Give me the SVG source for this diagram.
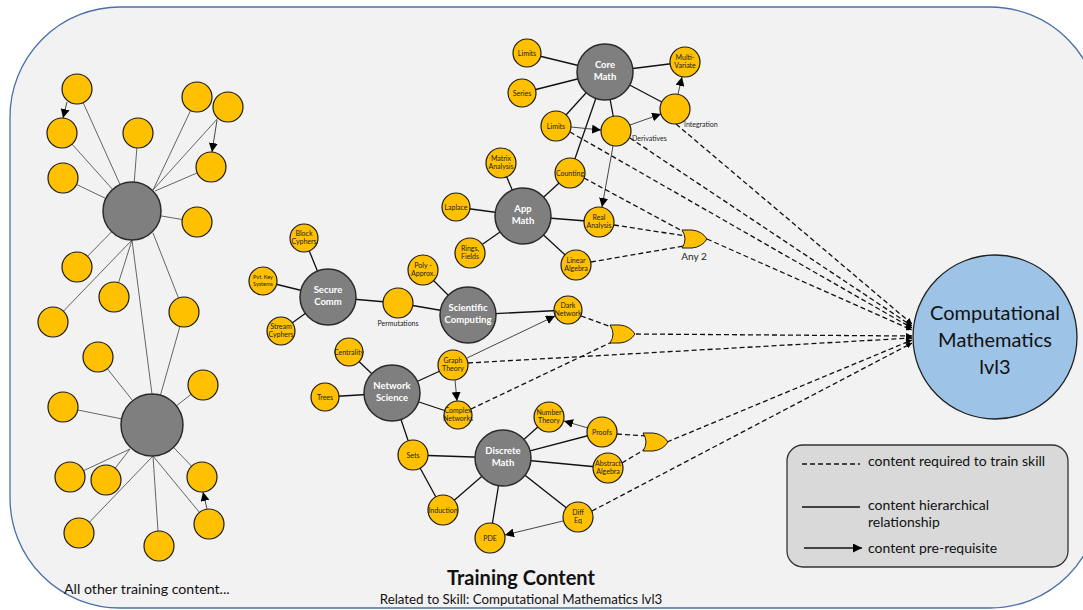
<svg xmlns="http://www.w3.org/2000/svg" width="1083" height="610" viewBox="0 0 1083 610">
<defs>
<style>
.frame{fill:#f2f2f2;stroke:#4a6fa8;stroke-width:1.3}
.y{fill:#ffc000;stroke:#1a1a1a;stroke-width:1.2}
.hub{fill:#7f7f7f;stroke:#2b2b2b;stroke-width:1.5}
.thin{stroke:#555;stroke-width:0.9;fill:none}
.h{stroke:#111;stroke-width:1.3;fill:none}
.pre{stroke:#333;stroke-width:0.9;fill:none;marker-end:url(#ah)}
.d{stroke:#111;stroke-width:1.3;fill:none;stroke-dasharray:5 3}
.da{stroke:#111;stroke-width:1.3;fill:none;stroke-dasharray:5 3;marker-end:url(#ahs)}
.gate{fill:#ffc000;stroke:#1a1a1a;stroke-width:1}
text{font-family:Lato,"Liberation Sans",sans-serif}
.n{font-size:7px;fill:#222;text-anchor:middle}
.hubt{font-size:9.5px;font-weight:bold;fill:#fff;text-anchor:middle}
.lg{font-size:14px;fill:#111}
</style>
<marker id="ah" viewBox="0 0 10 10" refX="10" refY="5" markerWidth="9" markerHeight="9" markerUnits="userSpaceOnUse" orient="auto"><path d="M0,0 L10,5 L0,10 Z" fill="#000"/></marker>
<marker id="ahs" viewBox="0 0 10 10" refX="10" refY="5" markerWidth="6" markerHeight="6" markerUnits="userSpaceOnUse" orient="auto"><path d="M0,0 L10,5 L0,10 Z" fill="#000"/></marker>
<path id="or" d="M0,-9 L10,-9 Q20,-8 25,0 Q20,8 10,9 L0,9 Q6,0 0,-9 Z"/>
</defs>

<rect class="frame" x="10" y="7" width="1090" height="601" rx="110" ry="110"/>

<!-- connectors -->
<g id="connectors">
  <!-- left cluster -->
  <g class="thin">
    <line x1="132" y1="211" x2="77" y2="89"/>
    <line x1="132" y1="211" x2="62" y2="133"/>
    <line x1="132" y1="211" x2="138" y2="133"/>
    <line x1="153" y1="190" x2="197" y2="97"/>
    <line x1="153" y1="190" x2="228" y2="107"/>
    <line x1="155" y1="191" x2="211" y2="167"/>
    <line x1="132" y1="211" x2="63" y2="178"/>
    <line x1="132" y1="211" x2="197" y2="222"/>
    <line x1="132" y1="211" x2="77" y2="267"/>
    <line x1="132" y1="240" x2="114" y2="297"/>
    <line x1="132" y1="240" x2="53" y2="322"/>
    <line x1="153" y1="233" x2="184" y2="312"/>
    <line x1="132" y1="240" x2="152" y2="394"/>
    <line x1="152" y1="425" x2="184" y2="312"/>
    <line x1="152" y1="425" x2="98" y2="357"/>
    <line x1="152" y1="425" x2="63" y2="407"/>
    <line x1="152" y1="425" x2="203" y2="385"/>
    <line x1="130" y1="449" x2="70" y2="477"/>
    <line x1="130" y1="449" x2="106" y2="480"/>
    <line x1="152" y1="425" x2="202" y2="477"/>
    <line x1="153" y1="456" x2="79" y2="533"/>
    <line x1="153" y1="456" x2="159" y2="546"/>
    <line x1="153" y1="456" x2="209" y2="524"/>
  </g>
  <line class="pre" x1="67" y1="102" x2="63" y2="118"/>
  <line class="pre" x1="217" y1="120" x2="212" y2="152"/>
  <line class="pre" x1="207" y1="509" x2="203" y2="492"/>

  <!-- hierarchy lines -->
  <g class="h">
    <line x1="605" y1="72" x2="527" y2="53"/>
    <line x1="605" y1="72" x2="522" y2="93"/>
    <line x1="605" y1="72" x2="556" y2="126"/>
    <line x1="605" y1="72" x2="616" y2="131"/>
    <line x1="605" y1="72" x2="685" y2="62"/>
    <line x1="605" y1="72" x2="675" y2="109"/>
    <line x1="605" y1="72" x2="570" y2="173"/>
    <line x1="523" y1="216" x2="501" y2="163"/>
    <line x1="523" y1="216" x2="570" y2="173"/>
    <line x1="523" y1="216" x2="456" y2="207"/>
    <line x1="523" y1="216" x2="470" y2="253"/>
    <line x1="523" y1="216" x2="599" y2="222"/>
    <line x1="523" y1="216" x2="576" y2="265"/>
    <line x1="328" y1="297" x2="304" y2="238"/>
    <line x1="328" y1="297" x2="263" y2="281"/>
    <line x1="328" y1="297" x2="281" y2="331"/>
    <line x1="328" y1="297" x2="398" y2="303"/>
    <line x1="468" y1="315" x2="398" y2="303"/>
    <line x1="468" y1="315" x2="423" y2="270"/>
    <line x1="468" y1="315" x2="568" y2="310"/>
    <line x1="392" y1="393" x2="349" y2="352"/>
    <line x1="392" y1="393" x2="325" y2="397"/>
    <line x1="392" y1="393" x2="453" y2="365"/>
    <line x1="392" y1="393" x2="458" y2="415"/>
    <line x1="392" y1="393" x2="413" y2="455"/>
    <line x1="503" y1="458" x2="413" y2="455"/>
    <line x1="413" y1="455" x2="443" y2="510"/>
    <line x1="503" y1="458" x2="443" y2="510"/>
    <line x1="503" y1="458" x2="490" y2="538"/>
    <line x1="503" y1="458" x2="578" y2="517"/>
    <line x1="503" y1="458" x2="608" y2="468"/>
    <line x1="503" y1="458" x2="602" y2="432"/>
    <line x1="503" y1="458" x2="549" y2="417"/>
  </g>

  <!-- pre-requisites -->
  <line class="pre" x1="571" y1="127" x2="601" y2="130"/>
  <line class="pre" x1="630" y1="125" x2="661" y2="114"/>
  <line class="pre" x1="678" y1="94" x2="682" y2="77"/>
  <line class="pre" x1="613" y1="146" x2="602" y2="207"/>
  <line class="pre" x1="467" y1="358" x2="555" y2="316"/>
  <line class="pre" x1="455" y1="380" x2="457" y2="401"/>
  <line class="pre" x1="588" y1="428" x2="564" y2="421"/>
  <line class="pre" x1="563" y1="521" x2="505" y2="535"/>

  <!-- required (dashed) -->
  <line class="d" x1="584" y1="178" x2="684" y2="232"/>
  <line class="d" x1="614" y1="225" x2="686" y2="236"/>
  <line class="d" x1="591" y1="262" x2="684" y2="246"/>
  <line class="da" x1="707" y1="239" x2="912" y2="330"/>
  <line class="da" x1="570" y1="132" x2="912" y2="328"/>
  <line class="da" x1="630" y1="138" x2="912" y2="326"/>
  <line class="da" x1="676" y1="124" x2="912" y2="324"/>
  <line class="d" x1="581" y1="316" x2="614" y2="328"/>
  <line class="d" x1="471" y1="409" x2="614" y2="341"/>
  <line class="da" x1="636" y1="334" x2="912" y2="336"/>
  <line class="da" x1="468" y1="363" x2="912" y2="338"/>
  <line class="d" x1="617" y1="434" x2="647" y2="436"/>
  <line class="d" x1="622" y1="463" x2="647" y2="448"/>
  <line class="da" x1="667" y1="442" x2="912" y2="340"/>
  <line class="da" x1="592" y1="511" x2="912" y2="343"/>
</g>

<!-- left cluster nodes -->
<g id="other-content">
  <circle class="hub" cx="132" cy="211" r="29"/>
  <circle class="hub" cx="152" cy="425" r="31"/>
  <g class="y">
    <circle cx="77" cy="89" r="15"/><circle cx="62" cy="133" r="15"/><circle cx="138" cy="133" r="15"/>
    <circle cx="197" cy="97" r="15"/><circle cx="228" cy="107" r="15"/><circle cx="211" cy="167" r="15"/>
    <circle cx="63" cy="178" r="15"/><circle cx="197" cy="222" r="15"/><circle cx="77" cy="267" r="15"/>
    <circle cx="114" cy="297" r="15"/><circle cx="53" cy="322" r="15"/><circle cx="184" cy="312" r="15"/>
    <circle cx="98" cy="357" r="15"/><circle cx="63" cy="407" r="15"/><circle cx="203" cy="385" r="15"/>
    <circle cx="70" cy="477" r="15"/><circle cx="106" cy="480" r="15"/><circle cx="202" cy="477" r="15"/>
    <circle cx="79" cy="533" r="15"/><circle cx="159" cy="546" r="15"/><circle cx="209" cy="524" r="15"/>
  </g>
  <text x="64" y="594" style="font-size:14.2px;fill:#111">All other training content...</text>
</g>

<!-- Core Math -->
<g id="core-math">
  <circle class="hub" cx="605" cy="72" r="28"/>
  <text class="hubt" x="605" y="68">Core</text><text class="hubt" x="605" y="80">Math</text>
</g>
<g id="limits-a"><circle class="y" cx="527" cy="53" r="14"/><text class="n" x="527" y="56">Limits</text></g>
<g id="series"><circle class="y" cx="522" cy="93" r="14"/><text class="n" x="522" y="96">Series</text></g>
<g id="limits-b"><circle class="y" cx="556" cy="126" r="15"/><text class="n" x="556" y="129">Limits</text></g>
<g id="derivatives"><circle class="y" cx="616" cy="131" r="15"/><text x="632" y="141" style="font-size:7px;fill:#222">Derivatives</text></g>
<g id="integration"><circle class="y" cx="675" cy="109" r="15"/><text x="684" y="127" style="font-size:7px;fill:#222">Integration</text></g>
<g id="multivariate"><circle class="y" cx="685" cy="62" r="15"/><text class="n" x="685" y="60">Multi-</text><text class="n" x="685" y="68">Variate</text></g>

<!-- App Math -->
<g id="app-math">
  <circle class="hub" cx="523" cy="216" r="28"/>
  <text class="hubt" x="523" y="212">App</text><text class="hubt" x="523" y="224">Math</text>
</g>
<g id="matrix"><circle class="y" cx="501" cy="163" r="15"/><text class="n" x="501" y="161">Matrix</text><text class="n" x="501" y="169">Analysis</text></g>
<g id="counting"><circle class="y" cx="570" cy="173" r="15"/><text class="n" x="570" y="176">Counting</text></g>
<g id="laplace"><circle class="y" cx="456" cy="207" r="14"/><text class="n" x="456" y="210">Laplace</text></g>
<g id="rings"><circle class="y" cx="470" cy="253" r="15"/><text class="n" x="470" y="251">Rings,</text><text class="n" x="470" y="259">Fields</text></g>
<g id="real-analysis"><circle class="y" cx="599" cy="222" r="15"/><text class="n" x="599" y="220">Real</text><text class="n" x="599" y="228">Analysis</text></g>
<g id="linear-algebra"><circle class="y" cx="576" cy="265" r="15"/><text class="n" x="576" y="263">Linear</text><text class="n" x="576" y="271">Algebra</text></g>
<g id="gate-any2"><use href="#or" class="gate" x="682" y="239"/><text x="694" y="260" style="font-size:10px;fill:#222;text-anchor:middle">Any 2</text></g>

<!-- Secure Comm -->
<g id="secure-comm">
  <circle class="hub" cx="328" cy="297" r="28"/>
  <text class="hubt" x="328" y="293">Secure</text><text class="hubt" x="328" y="305">Comm</text>
</g>
<g id="block"><circle class="y" cx="304" cy="238" r="14"/><text class="n" x="304" y="236">Block</text><text class="n" x="304" y="244">Cyphers</text></g>
<g id="pvtkey"><circle class="y" cx="263" cy="281" r="14"/><text class="n" x="263" y="279" style="font-size:5.5px">Pvt. Key</text><text class="n" x="263" y="286" style="font-size:5.5px">Systems</text></g>
<g id="stream"><circle class="y" cx="281" cy="331" r="14"/><text class="n" x="281" y="329">Stream</text><text class="n" x="281" y="337">Cyphers</text></g>
<g id="permutations"><circle class="y" cx="398" cy="303" r="15"/><text class="n" x="398" y="326">Permutations</text></g>

<!-- Scientific Computing -->
<g id="sci-computing">
  <circle class="hub" cx="468" cy="315" r="28"/>
  <text class="hubt" x="468" y="311">Scientific</text><text class="hubt" x="468" y="323">Computing</text>
</g>
<g id="poly"><circle class="y" cx="423" cy="270" r="15"/><text class="n" x="423" y="268">Poly -</text><text class="n" x="423" y="276">Approx.</text></g>
<g id="dark-network"><circle class="y" cx="568" cy="310" r="14"/><text class="n" x="568" y="308">Dark</text><text class="n" x="568" y="316">Network</text></g>
<g id="gate-2"><use href="#or" class="gate" x="610" y="334"/></g>

<!-- Network Science -->
<g id="network-science">
  <circle class="hub" cx="392" cy="393" r="28"/>
  <text class="hubt" x="392" y="389">Network</text><text class="hubt" x="392" y="401">Science</text>
</g>
<g id="centrality"><circle class="y" cx="349" cy="352" r="14"/><text class="n" x="349" y="355">Centrality</text></g>
<g id="trees"><circle class="y" cx="325" cy="397" r="14"/><text class="n" x="325" y="400">Trees</text></g>
<g id="graph-theory"><circle class="y" cx="453" cy="365" r="15"/><text class="n" x="453" y="363">Graph</text><text class="n" x="453" y="371">Theory</text></g>
<g id="complex"><circle class="y" cx="458" cy="415" r="14"/><text class="n" x="458" y="413">Complex</text><text class="n" x="458" y="421">Networks</text></g>

<!-- Discrete Math -->
<g id="discrete-math">
  <circle class="hub" cx="503" cy="458" r="28"/>
  <text class="hubt" x="503" y="454">Discrete</text><text class="hubt" x="503" y="466">Math</text>
</g>
<g id="sets"><circle class="y" cx="413" cy="455" r="15"/><text class="n" x="413" y="458">Sets</text></g>
<g id="induction"><circle class="y" cx="443" cy="510" r="15"/><text class="n" x="443" y="513">Induction</text></g>
<g id="pde"><circle class="y" cx="490" cy="538" r="15"/><text class="n" x="490" y="541">PDE</text></g>
<g id="diffeq"><circle class="y" cx="578" cy="517" r="15"/><text class="n" x="578" y="515">Diff</text><text class="n" x="578" y="523">Eq</text></g>
<g id="abstract"><circle class="y" cx="608" cy="468" r="15"/><text class="n" x="608" y="466">Abstract</text><text class="n" x="608" y="474">Algebra</text></g>
<g id="proofs"><circle class="y" cx="602" cy="432" r="15"/><text class="n" x="602" y="435">Proofs</text></g>
<g id="number-theory"><circle class="y" cx="549" cy="417" r="15"/><text class="n" x="549" y="415">Number</text><text class="n" x="549" y="423">Theory</text></g>
<g id="gate-3"><use href="#or" class="gate" x="643" y="442"/></g>

<!-- Target skill -->
<g id="skill">
  <circle cx="995" cy="337" r="82" style="fill:#9dc3e6;stroke:#222;stroke-width:1.3"/>
  <text x="995" y="320" style="font-size:20px;fill:#111;text-anchor:middle">Computational</text>
  <text x="995" y="347" style="font-size:20px;fill:#111;text-anchor:middle">Mathematics</text>
  <text x="995" y="374" style="font-size:20px;fill:#111;text-anchor:middle">lvl3</text>
</g>

<!-- Legend -->
<g id="legend">
  <rect x="787" y="445" width="281" height="122" rx="16" style="fill:#d9d9d9;stroke:#333;stroke-width:1.3"/>
  <line class="d" x1="802" y1="464" x2="860" y2="464"/>
  <text class="lg" x="868" y="466">content required to train skill</text>
  <line class="h" x1="802" y1="507" x2="860" y2="507"/>
  <text class="lg" x="868" y="510">content hierarchical</text>
  <text class="lg" x="868" y="527">relationship</text>
  <line x1="804" y1="548" x2="862" y2="548" style="stroke:#111;stroke-width:1.3;marker-end:url(#ah)"/>
  <text class="lg" x="868" y="553">content pre-requisite</text>
</g>

<!-- Titles -->
<g id="titles">
  <text x="521" y="585" style="font-size:20px;font-weight:bold;fill:#111;text-anchor:middle">Training Content</text>
  <text x="521" y="604" style="font-size:13.3px;fill:#111;text-anchor:middle">Related to Skill: Computational Mathematics lvl3</text>
</g>
</svg>
